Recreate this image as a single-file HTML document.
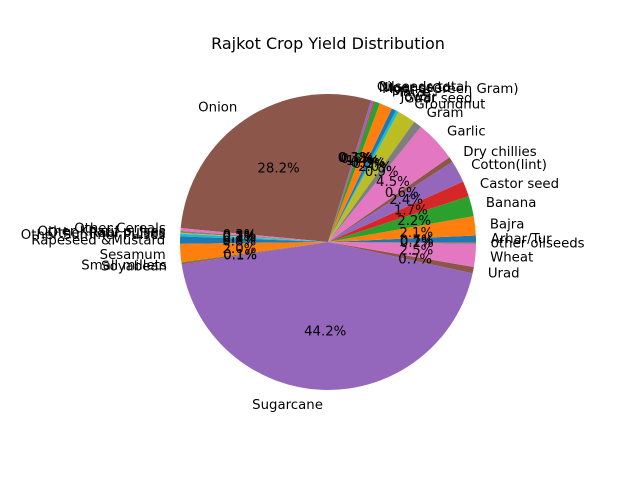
<!DOCTYPE html>
<html><head><meta charset="utf-8"><style>
body{margin:0;background:#fff;}
svg{display:block;font-family:"DejaVu Sans","Liberation Sans",sans-serif;}
</style></head><body>
<svg id="chart" width="640" height="480" viewBox="0 0 640 480">
<rect width="640" height="480" fill="#fff"/>
<text x="328" y="49" font-size="16" text-anchor="middle">Rajkot Crop Yield Distribution</text>
<g id="slices"></g>
<g id="labels"></g>
</svg>
<script>
const categories = ["Arhar/Tur","Bajra","Banana","Castor seed","Cotton(lint)","Dry chillies","Garlic","Gram","Groundnut","Guar seed","Jowar","Maize","Moong(Green Gram)","Niger seed","Oilseeds total","Onion","Other Cereals","Other Kharif pulses","Other Rabi pulses","Other Summer Pulses","Rapeseed &Mustard","Sesamum","Small millets","Soyabean","Sugarcane","Urad","Wheat","other oilseeds"];
const values = [0.7,2.1,2.2,1.7,2.4,0.6,4.5,0.9,2.0,0.3,0.5,1.4,0.6,0.1,0.3,28.2,0.3,0.2,0.1,0.3,0.8,2.0,0.1,0.1,44.2,0.7,2.5,0.2];
const colors = ["#1f77b4","#ff7f0e","#2ca02c","#d62728","#9467bd","#8c564b","#e377c2","#7f7f7f","#bcbd22","#17becf"];
const cx=328, cy=242, R=148;
const NS="http://www.w3.org/2000/svg";
const total = values.reduce((a,b)=>a+b,0);
const gS=document.getElementById('slices'), gL=document.getElementById('labels');
function pt(a,r){return [cx+r*Math.cos(a), cy-r*Math.sin(a)];}
let cum=0;
values.forEach((v,i)=>{
  const f=v/total;
  const a0=cum*2*Math.PI, a1=(cum+f)*2*Math.PI, am=(a0+a1)/2;
  cum+=f;
  const p0=pt(a0,R), p1=pt(a1,R);
  const large=(a1-a0)>Math.PI?1:0;
  const path=document.createElementNS(NS,'path');
  path.setAttribute('d',`M${cx},${cy} L${p0[0]},${p0[1]} A${R},${R} 0 ${large} 0 ${p1[0]},${p1[1]} Z`);
  path.setAttribute('fill',colors[i%10]);
  
  
  gS.appendChild(path);
  const lp=pt(am,R*1.1);
  const t=document.createElementNS(NS,'text');
  t.setAttribute('x',lp[0]); t.setAttribute('y',lp[1]+4.5);
  t.setAttribute('font-size','13.3');
  t.setAttribute('text-anchor',Math.cos(am)>=0?'start':'end');
  t.textContent=categories[i];
  
  
  gL.appendChild(t);
  const pp=pt(am,R*0.6);
  const q=document.createElementNS(NS,'text');
  q.setAttribute('x',pp[0]); q.setAttribute('y',pp[1]+4.5);
  q.setAttribute('font-size','13.3');
  q.setAttribute('text-anchor','middle');
  q.textContent=(f*100).toFixed(1)+'%';
  
  
  gL.appendChild(q);
});
</script>
</body></html>
